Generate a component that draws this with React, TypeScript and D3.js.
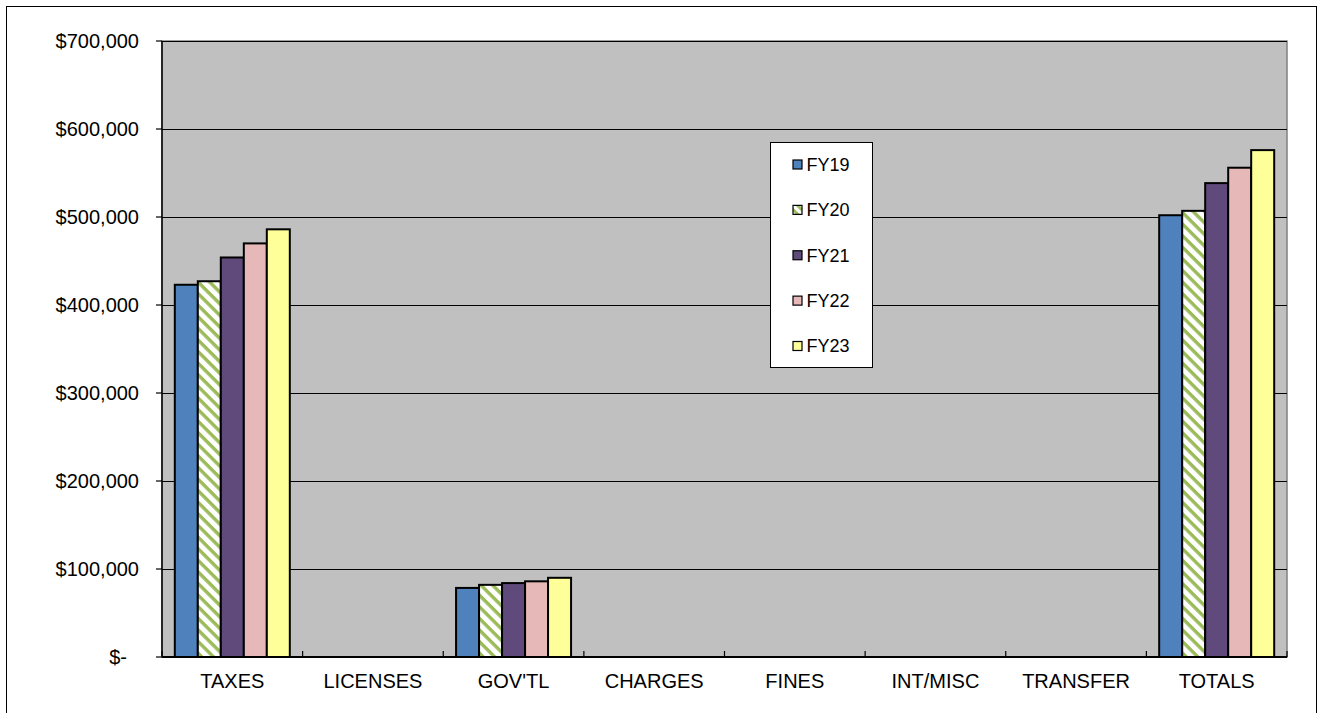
import React from "react";
import * as d3 from "d3";

// Revenue categories and fiscal-year series
const categories = ["TAXES", "LICENSES", "GOV'TL", "CHARGES", "FINES", "INT/MISC", "TRANSFER", "TOTALS"];
const seriesNames = ["FY19", "FY20", "FY21", "FY22", "FY23"];

const fy19 = [423000, 0, 78500, 0, 0, 0, 0, 502000];
const fy20 = [427000, 0, 82000, 0, 0, 0, 0, 507000];
const fy21 = [454000, 0, 84000, 0, 0, 0, 0, 538500];
const fy22 = [470000, 0, 86000, 0, 0, 0, 0, 556000];
const fy23 = [486000, 0, 90000, 0, 0, 0, 0, 576000];
const seriesValues = [fy19, fy20, fy21, fy22, fy23];

const yTicks = [0, 100000, 200000, 300000, 400000, 500000, 600000, 700000];

const W = 1320;
const H = 713;
const plot = { left: 162, right: 1287, top: 41, bottom: 657 };
const FONT = "'Liberation Sans', Arial, Helvetica, sans-serif";

const fills = ["#4F81BD", "url(#fy20hatch)", "#604A7B", "#E6B9B8", "#FFFF99"];
const swatch = ["#4F81BD", "url(#fy20hatchSmall)", "#604A7B", "#E6B9B8", "#FFFF99"];

function fmtMoney(v: number) {
  return v === 0 ? "$-" : "$" + d3.format(",")(v);
}

export default function App() {
  const x0 = d3.scaleBand<string>().domain(categories).range([plot.left, plot.right]).padding(0);
  const x1 = d3
    .scaleBand<string>()
    .domain(seriesNames)
    .range([0, x0.bandwidth()])
    .paddingInner(0)
    .paddingOuter(0.557);
  const y = d3.scaleLinear().domain([0, 700000]).range([plot.bottom, plot.top]);

  const legend = { x: 770.5, y: 142.5, w: 102, h: 225 };
  const legendY = d3.scalePoint<string>().domain(seriesNames).range([164.5, 346]);

  return (
    <div style={{ position: "fixed", left: 0, top: 0, width: W, height: H, background: "#fff" }}>
      <svg width={W} height={H} style={{ display: "block" }} fontFamily={FONT}>
        <defs>
          <pattern id="fy20hatch" width="8.2" height="8.2" patternUnits="userSpaceOnUse" patternTransform="rotate(45)">
            <rect width="8.2" height="8.2" fill="#fff" />
            <rect x="0" y="0" width="8.2" height="3.4" fill="#9BBB59" />
          </pattern>
          <pattern id="fy20hatchSmall" width="6" height="6" patternUnits="userSpaceOnUse" patternTransform="rotate(45)">
            <rect width="6" height="6" fill="#fff" />
            <rect x="0" y="0" width="6" height="2.8" fill="#9BBB59" />
          </pattern>
        </defs>

        {/* chart frame */}
        <rect x={6.5} y={6.5} width={1310} height={730} fill="#fff" stroke="#000" strokeWidth={1} />

        {/* plot area */}
        <rect
          x={plot.left}
          y={plot.top}
          width={plot.right - plot.left}
          height={plot.bottom - plot.top}
          fill="#C0C0C0"
          stroke="#808080"
          strokeWidth={1.5}
        />

        {/* horizontal gridlines */}
        {yTicks.slice(1).map((t) => (
          <line
            key={"g" + t}
            x1={plot.left}
            x2={plot.right}
            y1={Math.round(y(t)) + 0.5}
            y2={Math.round(y(t)) + 0.5}
            stroke="#000"
            strokeWidth={1}
          />
        ))}

        {/* bars */}
        {categories.map((c, ci) => (
          <g key={c} transform={`translate(${x0(c)},0)`}>
            {seriesNames.map((s, si) => {
              const v = seriesValues[si][ci];
              if (!v) return null;
              return (
                <rect
                  key={s}
                  x={x1(s)}
                  y={y(v)}
                  width={x1.bandwidth()}
                  height={y(0) - y(v)}
                  fill={fills[si]}
                  stroke="#000"
                  strokeWidth={2}
                />
              );
            })}
          </g>
        ))}

        {/* value axis */}
        <line x1={plot.left} x2={plot.left} y1={plot.top} y2={plot.bottom} stroke="#000" strokeWidth={1.5} />
        {yTicks.map((t) => (
          <g key={"y" + t}>
            <line x1={plot.left - 6} x2={plot.left} y1={y(t)} y2={y(t)} stroke="#000" strokeWidth={1.2} />
            <text
              x={t === 0 ? 127 : 139}
              y={y(t)}
              dy="0.36em"
              textAnchor="end"
              fontSize={20}
              fill="#000"
            >
              {fmtMoney(t)}
            </text>
          </g>
        ))}

        {/* category axis */}
        <line x1={plot.left} x2={plot.right} y1={plot.bottom} y2={plot.bottom} stroke="#000" strokeWidth={1.8} />
        {categories.map((c) => (
          <line
            key={"tk" + c}
            x1={x0(c) as number}
            x2={x0(c) as number}
            y1={plot.bottom}
            y2={plot.bottom - 6}
            stroke="#000"
            strokeWidth={1.2}
          />
        ))}
        <line x1={plot.right} x2={plot.right} y1={plot.bottom} y2={plot.bottom - 6} stroke="#000" strokeWidth={1.2} />
        {categories.map((c) => (
          <text
            key={"xl" + c}
            x={(x0(c) as number) + x0.bandwidth() / 2}
            y={688}
            textAnchor="middle"
            fontSize={20}
            fill="#000"
          >
            {c}
          </text>
        ))}

        {/* legend */}
        <rect x={legend.x} y={legend.y} width={legend.w} height={legend.h} fill="#fff" stroke="#000" strokeWidth={1} />
        {seriesNames.map((s, i) => {
          const cy = legendY(s) as number;
          return (
            <g key={"lg" + s}>
              <rect x={793} y={cy - 4.5} width={9} height={9} fill={swatch[i]} stroke="#000" strokeWidth={1.2} />
              <text x={806.5} y={cy} dy="0.36em" fontSize={18} fill="#000">
                {s}
              </text>
            </g>
          );
        })}
      </svg>
    </div>
  );
}
